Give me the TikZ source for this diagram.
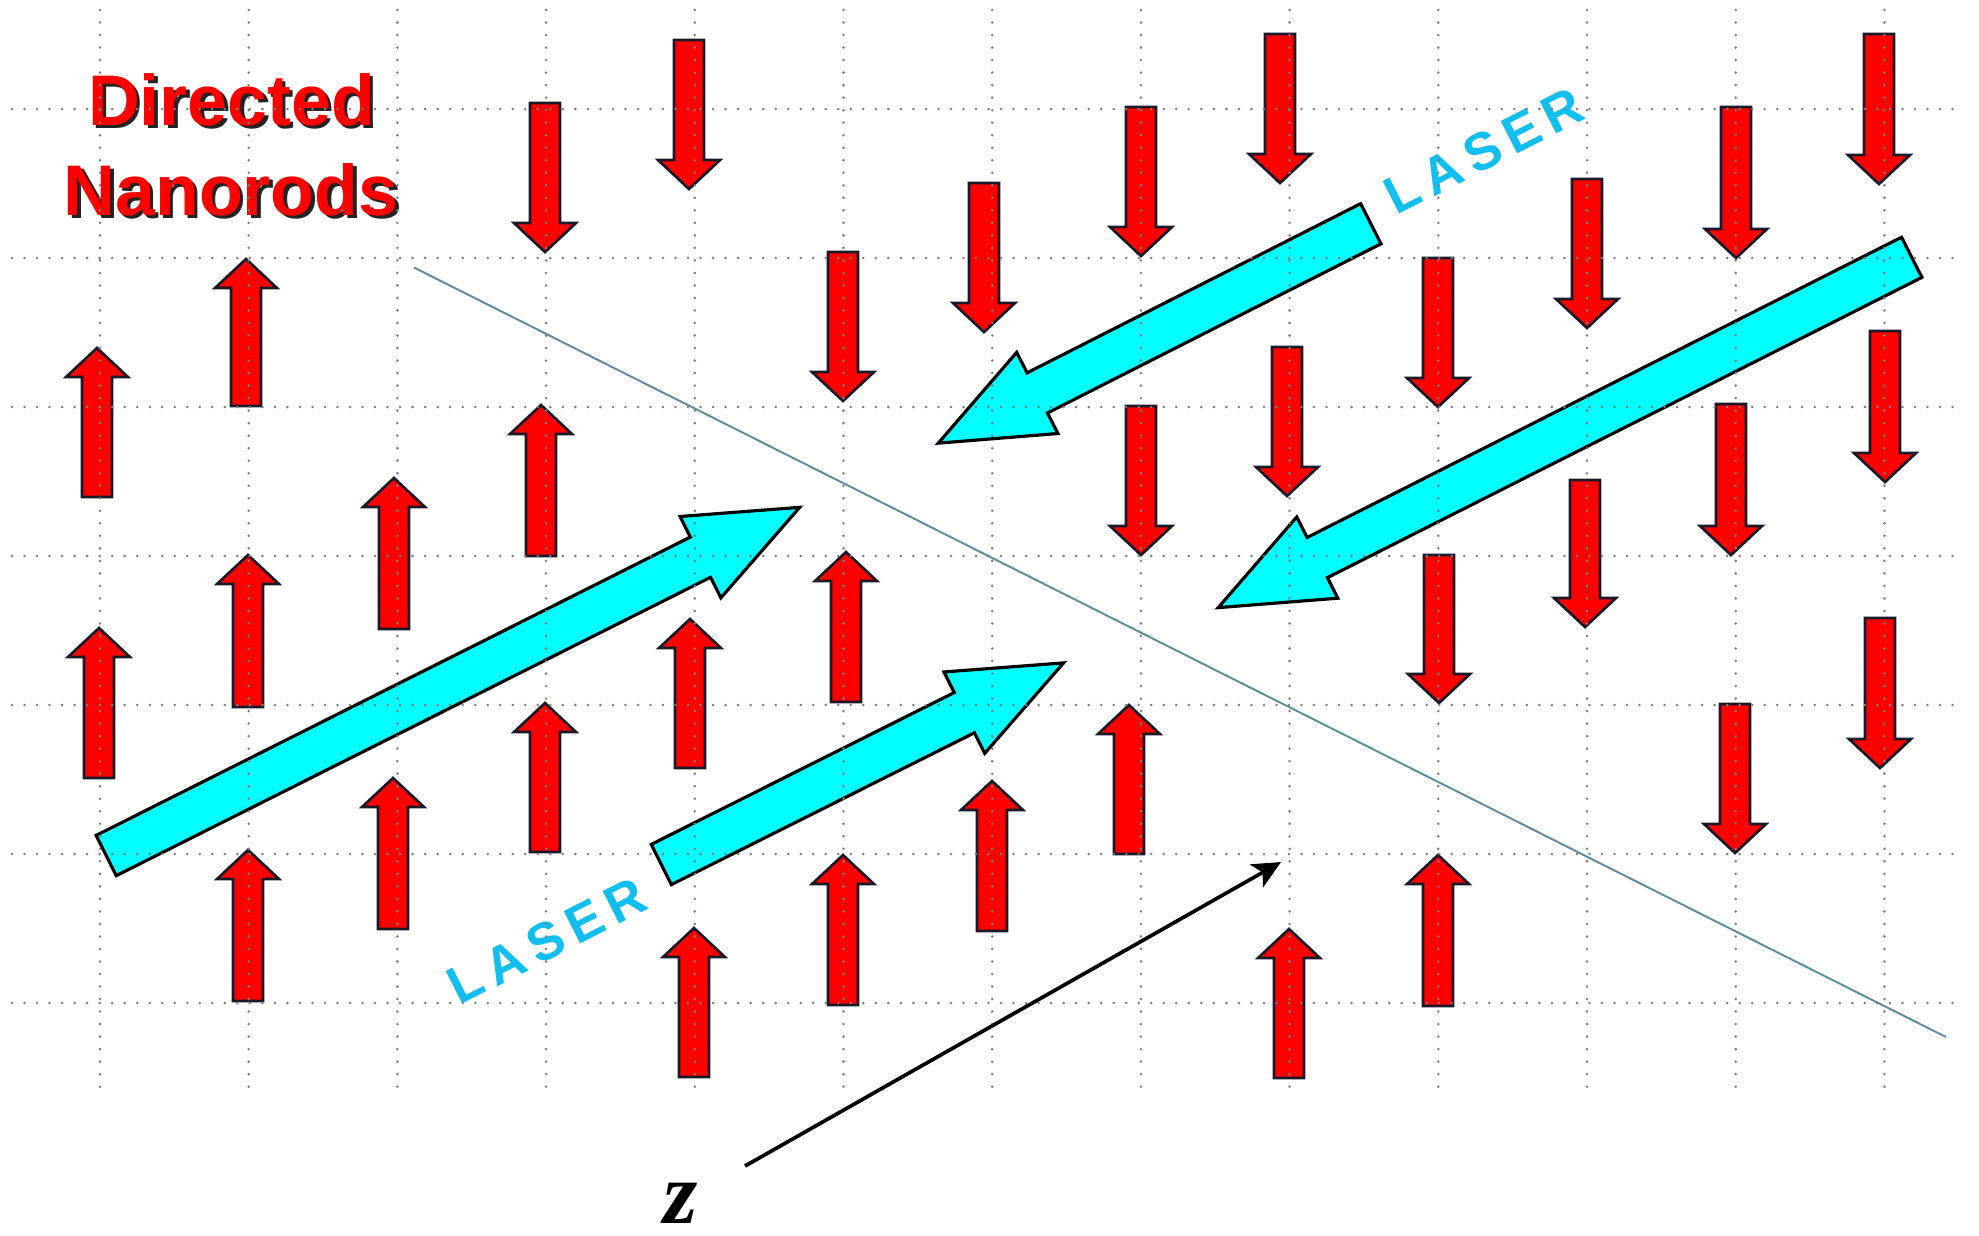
\documentclass[tikz,border=0pt]{standalone}
\usepackage{fontspec}
\setmainfont{Liberation Sans}
\newfontfamily\titlefont{Liberation Sans}
\newfontfamily\zfont{Liberation Serif}
\usetikzlibrary{arrows.meta}
\definecolor{rodred}{RGB}{255,0,0}
\definecolor{rodedge}{RGB}{25,25,40}
\definecolor{beamc}{RGB}{0,255,255}
\definecolor{lasertext}{RGB}{16,190,240}
\definecolor{divline}{RGB}{95,140,155}
\definecolor{gridgray}{RGB}{125,125,125}
\definecolor{shadowc}{RGB}{35,35,35}
\tikzset{
 redarr/.style={fill=rodred, draw=rodedge, line width=0.75pt, line join=miter},
 beamarr/.style={fill=beamc, draw=black, line width=0.9pt, line join=miter},
 griddot/.style={draw=gridgray, line width=0.8pt, line cap=round, dash pattern=on 0pt off 3.56pt},
 titletext/.style={inner sep=0pt, anchor=base, font=\titlefont\bfseries\fontsize{20.4pt}{22pt}\selectfont},
 lasertxt/.style={inner sep=0pt, anchor=center, text=lasertext, rotate=27, font=\titlefont\bfseries\fontsize{15pt}{17pt}\selectfont},
 zarrow/.style={draw=black, line width=1.05pt, -{Stealth[length=8pt,width=7.5pt,inset=2pt]}},
}
\newcommand{\rodup}[3]{\draw[redarr] ({#1-15},#3) -- ({#1-15},{#2+29}) -- ({#1-31},{#2+29}) -- (#1,#2) -- ({#1+31},{#2+29}) -- ({#1+15},{#2+29}) -- ({#1+15},#3) -- cycle;}
\newcommand{\roddown}[3]{\draw[redarr] ({#1-15},#2) -- ({#1-15},{#3-29}) -- ({#1-31},{#3-29}) -- (#1,#3) -- ({#1+31},{#3-29}) -- ({#1+15},{#3-29}) -- ({#1+15},#2) -- cycle;}
\newcommand{\laserbeam}[4]{%
 \begin{scope}[shift={(#1,#2)}, rotate=#3]
  \draw[beamarr] (0,-22.5) -- ({#4-111},-22.5) -- ({#4-111},-45.5) -- (#4,0) -- ({#4-111},45.5) -- ({#4-111},22.5) -- (0,22.5) -- cycle;
 \end{scope}}
\newcommand{\lsp}{\kern0.17em}
\begin{document}
\begin{tikzpicture}[x=0.01cm, y=-0.01cm]
\useasboundingbox (0,0) rectangle (1979,1235);
\fill[white] (0,0) rectangle (1979,1235);
% dividing line
\coordinate (la) at (414,267.5);
\coordinate (lb) at (1946,1037);
\draw[divline, line width=0.55pt] (la) -- (lb);
% up rods
\rodup{97}{348}{497}
\rodup{246}{259}{406}
\rodup{99}{628}{778}
\rodup{248}{555}{707}
\rodup{394}{478}{629}
\rodup{541}{405}{556}
\rodup{248}{850}{1001}
\rodup{393}{778}{929}
\rodup{545}{703}{852}
\rodup{690}{619}{768}
\rodup{694}{928}{1077}
\rodup{846}{552}{702}
\rodup{843}{855}{1005}
\rodup{992}{781}{931}
\rodup{1129}{705}{854}
\rodup{1289}{929}{1078}
\rodup{1438}{855}{1006}
% down rods
\roddown{545}{103}{252}
\roddown{689}{40}{189}
\roddown{843}{252}{401}
\roddown{984}{183}{332}
\roddown{1141}{107}{256}
\roddown{1280}{34}{183}
\roddown{1141}{406}{555}
\roddown{1287}{347}{496}
\roddown{1438}{258}{407}
\roddown{1587}{179}{328}
\roddown{1736}{107}{258}
\roddown{1879}{34}{184}
\roddown{1439}{555}{703}
\roddown{1585}{480}{627}
\roddown{1731}{404}{555}
\roddown{1885}{331}{482}
\roddown{1735}{704}{853}
\roddown{1880}{618}{768}
% laser beams
\laserbeam{106.2}{855.5}{26.66}{776}
\laserbeam{661.3}{864.5}{26.62}{450}
\laserbeam{1370.8}{223.7}{206.9}{485}
\laserbeam{1911.7}{257.3}{206.8}{777}
% title text
\node[titletext, text=shadowc] (t1s) at (235,128.5) {Directed};
\node[titletext, text=shadowc] (t2s) at (234.5,218.5) {Nanorods};
\node[titletext, text=rodred] (t1) at (231.7,125) {Directed};
\node[titletext, text=rodred] (t2) at (231,215) {Nanorods};
% laser labels
\node[lasertxt] (lz1) at (1484,151) {L\lsp A\lsp S\lsp E\lsp R};
\node[lasertxt] (lz2) at (547,941) {L\lsp A\lsp S\lsp E\lsp R};
% grid
\foreach \k in {0,...,12} {
  \draw[griddot] ({100+148.7*\k},10) -- ({100+148.7*\k},1088);
}
\foreach \j in {0,...,6} {
  \draw[griddot] (12,{109+149*\j}) -- (1958,{109+149*\j});
}
% z label and pointer
\node[inner sep=0pt, font=\zfont\bfseries\itshape\fontsize{25pt}{25pt}\selectfont] (zl) at (681,1203) {z};
\coordinate (zs) at (745,1166);
\coordinate (zt) at (1281,862);
\draw[zarrow] (zs) -- (zt);
\end{tikzpicture}
\end{document}
